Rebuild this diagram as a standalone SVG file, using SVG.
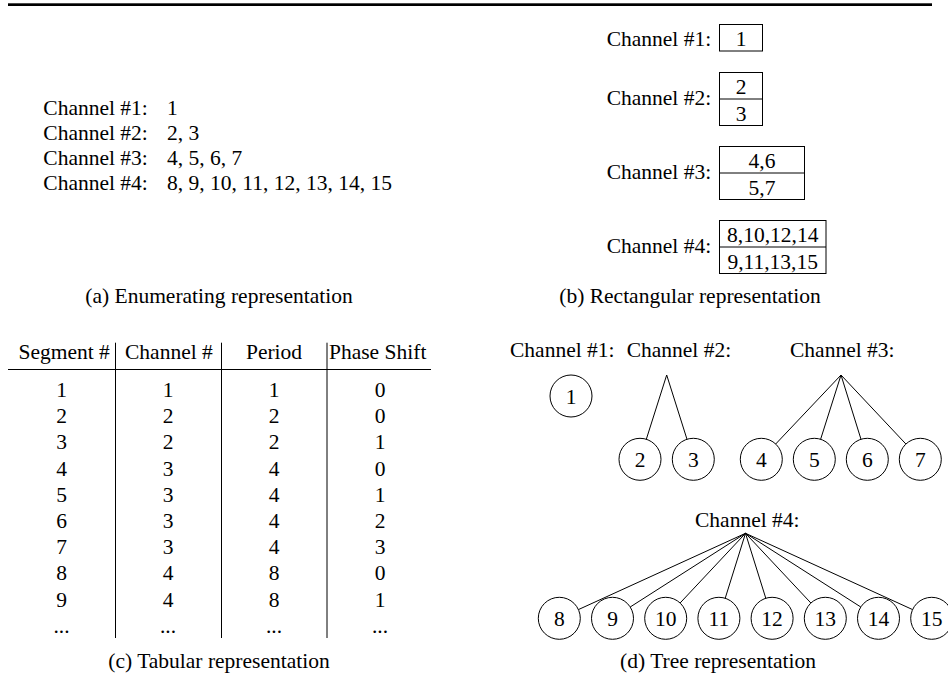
<svg xmlns="http://www.w3.org/2000/svg" width="948" height="692" viewBox="0 0 948 692">
<style>
text{font-family:"Liberation Serif","Times New Roman",serif;font-size:21.5px;fill:#000}
.m{text-anchor:middle}
.ln{stroke:#000;stroke-width:1;fill:none}
.box{stroke:#000;stroke-width:1;fill:none}
.node{stroke:#000;stroke-width:1;fill:#fff}
</style>
<rect x="8" y="3.3" width="924" height="2.7" fill="#000"/>

<g id="panel-a">
<text x="43.3" y="114.5">Channel #1:</text><text x="167" y="114.5">1</text>
<text x="43.3" y="139.5">Channel #2:</text><text x="167" y="139.5">2, 3</text>
<text x="43.3" y="164.5">Channel #3:</text><text x="167" y="164.5">4, 5, 6, 7</text>
<text x="43.3" y="189.5">Channel #4:</text><text x="167" y="189.5">8, 9, 10, 11, 12, 13, 14, 15</text>
<text class="m" x="219" y="303">(a) Enumerating representation</text>
</g>

<g id="panel-b">
<g id="rect-ch1">
<text x="606.7" y="46">Channel #1:</text>
<rect class="box" x="719.5" y="24.5" width="43" height="26.5"/>
<text class="m" x="741" y="46">1</text>
</g>
<g id="rect-ch2">
<text x="606.7" y="105">Channel #2:</text>
<rect class="box" x="719.5" y="72.5" width="43" height="53"/>
<line class="ln" x1="719.5" y1="99" x2="762.5" y2="99"/>
<text class="m" x="741" y="94">2</text>
<text class="m" x="741" y="120.5">3</text>
</g>
<g id="rect-ch3">
<text x="606.7" y="179">Channel #3:</text>
<rect class="box" x="719.5" y="146.5" width="85" height="53"/>
<line class="ln" x1="719.5" y1="173" x2="804.5" y2="173"/>
<text class="m" x="762" y="168">4,6</text>
<text class="m" x="762" y="194.5">5,7</text>
</g>
<g id="rect-ch4">
<text x="606.7" y="253">Channel #4:</text>
<rect class="box" x="719.5" y="220.5" width="106.5" height="53"/>
<line class="ln" x1="719.5" y1="247" x2="826" y2="247"/>
<text class="m" x="772.7" y="242">8,10,12,14</text>
<text class="m" x="772.7" y="268.5">9,11,13,15</text>
</g>
<text class="m" x="690" y="303">(b) Rectangular representation</text>
</g>

<g id="panel-c">
<line class="ln" x1="8" y1="369.5" x2="431" y2="369.5"/>
<line class="ln" x1="115.5" y1="342.7" x2="115.5" y2="638"/>
<line class="ln" x1="221.5" y1="342.7" x2="221.5" y2="638"/>
<line class="ln" x1="327" y1="342.7" x2="327" y2="638"/>
<text x="18.5" y="359">Segment #</text>
<text x="125" y="359">Channel #</text>
<text class="m" x="274" y="359">Period</text>
<text x="329" y="359">Phase Shift</text>
<g class="rows">
<text class="m" x="61.5" y="397">1</text><text class="m" x="168" y="397">1</text><text class="m" x="274" y="397">1</text><text class="m" x="380" y="397">0</text>
<text class="m" x="61.5" y="423.2">2</text><text class="m" x="168" y="423.2">2</text><text class="m" x="274" y="423.2">2</text><text class="m" x="380" y="423.2">0</text>
<text class="m" x="61.5" y="449.4">3</text><text class="m" x="168" y="449.4">2</text><text class="m" x="274" y="449.4">2</text><text class="m" x="380" y="449.4">1</text>
<text class="m" x="61.5" y="475.6">4</text><text class="m" x="168" y="475.6">3</text><text class="m" x="274" y="475.6">4</text><text class="m" x="380" y="475.6">0</text>
<text class="m" x="61.5" y="501.8">5</text><text class="m" x="168" y="501.8">3</text><text class="m" x="274" y="501.8">4</text><text class="m" x="380" y="501.8">1</text>
<text class="m" x="61.5" y="528">6</text><text class="m" x="168" y="528">3</text><text class="m" x="274" y="528">4</text><text class="m" x="380" y="528">2</text>
<text class="m" x="61.5" y="554.2">7</text><text class="m" x="168" y="554.2">3</text><text class="m" x="274" y="554.2">4</text><text class="m" x="380" y="554.2">3</text>
<text class="m" x="61.5" y="580.4">8</text><text class="m" x="168" y="580.4">4</text><text class="m" x="274" y="580.4">8</text><text class="m" x="380" y="580.4">0</text>
<text class="m" x="61.5" y="606.6">9</text><text class="m" x="168" y="606.6">4</text><text class="m" x="274" y="606.6">8</text><text class="m" x="380" y="606.6">1</text>
<text class="m" x="61.5" y="632.8">...</text><text class="m" x="168" y="632.8">...</text><text class="m" x="274" y="632.8">...</text><text class="m" x="380" y="632.8">...</text>
</g>
<text class="m" x="219" y="668">(c) Tabular representation</text>
</g>

<g id="panel-d">
<text x="510" y="356.7">Channel #1:</text>
<text x="626.7" y="356.7">Channel #2:</text>
<text x="790" y="356.7">Channel #3:</text>
<text x="695" y="526.7">Channel #4:</text>

<g id="connectors">
<line class="ln" x1="666.7" y1="375" x2="646.3" y2="439.3"/>
<line class="ln" x1="666.7" y1="375" x2="687" y2="439.3"/>
<line class="ln" x1="841" y1="375" x2="775.7" y2="444"/>
<line class="ln" x1="841" y1="375" x2="820.6" y2="439.3"/>
<line class="ln" x1="841" y1="375" x2="861" y2="439.3"/>
<line class="ln" x1="841" y1="375" x2="905.9" y2="444"/>
<line class="ln" x1="745.5" y1="533.3" x2="578.4" y2="609.6"/>
<line class="ln" x1="745.5" y1="533.3" x2="630.2" y2="607"/>
<line class="ln" x1="745.5" y1="533.3" x2="680.1" y2="603"/>
<line class="ln" x1="745.5" y1="533.3" x2="725.2" y2="598.3"/>
<line class="ln" x1="745.5" y1="533.3" x2="765.8" y2="598.3"/>
<line class="ln" x1="745.5" y1="533.3" x2="810.9" y2="603"/>
<line class="ln" x1="745.5" y1="533.3" x2="860.8" y2="607"/>
<line class="ln" x1="745.5" y1="533.3" x2="912.6" y2="609.6"/>
</g>

<g id="n1"><circle class="node" cx="571" cy="396" r="21"/><text class="m" x="571" y="403.5">1</text></g>
<g id="n2"><circle class="node" cx="640" cy="459.3" r="21"/><text class="m" x="640" y="466.8">2</text></g>
<g id="n3"><circle class="node" cx="693.3" cy="459.3" r="21"/><text class="m" x="693.3" y="466.8">3</text></g>
<g id="n4"><circle class="node" cx="761.3" cy="459.3" r="21"/><text class="m" x="761.3" y="466.8">4</text></g>
<g id="n5"><circle class="node" cx="814.3" cy="459.3" r="21"/><text class="m" x="814.3" y="466.8">5</text></g>
<g id="n6"><circle class="node" cx="867.3" cy="459.3" r="21"/><text class="m" x="867.3" y="466.8">6</text></g>
<g id="n7"><circle class="node" cx="920.3" cy="459.3" r="21"/><text class="m" x="920.3" y="466.8">7</text></g>
<g id="n8"><circle class="node" cx="559.3" cy="618.3" r="21"/><text class="m" x="559.3" y="625.8">8</text></g>
<g id="n9"><circle class="node" cx="612.5" cy="618.3" r="21"/><text class="m" x="612.5" y="625.8">9</text></g>
<g id="n10"><circle class="node" cx="665.7" cy="618.3" r="21"/><text class="m" x="665.7" y="625.8">10</text></g>
<g id="n11"><circle class="node" cx="718.9" cy="618.3" r="21"/><text class="m" x="718.9" y="625.8">11</text></g>
<g id="n12"><circle class="node" cx="772.1" cy="618.3" r="21"/><text class="m" x="772.1" y="625.8">12</text></g>
<g id="n13"><circle class="node" cx="825.3" cy="618.3" r="21"/><text class="m" x="825.3" y="625.8">13</text></g>
<g id="n14"><circle class="node" cx="878.5" cy="618.3" r="21"/><text class="m" x="878.5" y="625.8">14</text></g>
<g id="n15"><circle class="node" cx="931.7" cy="618.3" r="21"/><text class="m" x="931.7" y="625.8">15</text></g>

<text class="m" x="718" y="668">(d) Tree representation</text>
</g>
</svg>
